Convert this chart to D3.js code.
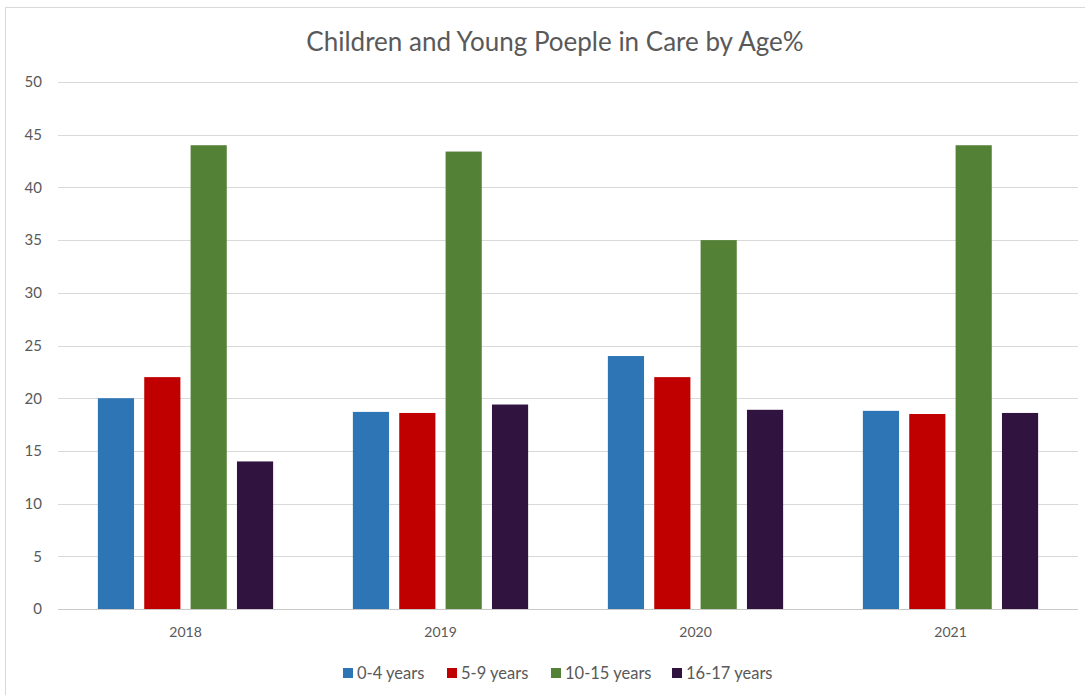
<!DOCTYPE html>
<html lang="en">
<head>
<meta charset="UTF-8">
<title>Children and Young Poeple in Care by Age%</title>
<script src="https://cdn.jsdelivr.net/npm/d3@7"></script>
<style>
  body { margin: 0; background: #fff; }
  text { font-family: Lato, "Open Sans", sans-serif; fill: #595959; }
</style>
</head>
<body>
<script>
    // data
    var years = ["2018", "2019", "2020", "2021"];
    var groups = ["0-4 years", "5-9 years", "10-15 years", "16-17 years"];
    var age0to4 = [20, 18.7, 24, 18.8];
    var age5to9 = [22, 18.6, 22, 18.5];
    var age10to15 = [44, 43.4, 35, 44];
    var age16to17 = [14, 19.4, 18.9, 18.6];
    var yTicks = [0, 5, 10, 15, 20, 25, 30, 35, 40, 45, 50];
    var colors = ["#2e75b6", "#c00000", "#538135", "#30133f"];

    var series = [age0to4, age5to9, age10to15, age16to17];

    var width = 1085, height = 695;
    var plotLeft = 58, plotRight = 1078, plotTop = 82, plotBottom = 609;

    var svg = d3.select("body").append("svg")
        .attr("width", width)
        .attr("height", height);

    // chart frame
    svg.append("rect")
        .attr("x", 5.5).attr("y", 7.5)
        .attr("width", width + 10).attr("height", height + 10)
        .attr("fill", "none")
        .attr("stroke", "#d9d9d9");

    var x = d3.scaleBand().domain(years).range([plotLeft, plotRight]).paddingInner(0).paddingOuter(0);
    var xInner = d3.scaleBand().domain(groups).range([0, x.bandwidth()])
        .paddingInner(0.22).paddingOuter(0.86);
    var y = d3.scaleLinear().domain([0, 50]).range([plotBottom, plotTop]);

    // gridlines
    svg.append("g")
        .selectAll("line")
        .data(yTicks)
        .enter().append("line")
        .attr("x1", plotLeft).attr("x2", plotRight)
        .attr("y1", d => Math.round(y(d)) + 0.5)
        .attr("y2", d => Math.round(y(d)) + 0.5)
        .attr("stroke", d => d === 0 ? "#c8c8c8" : "#d9d9d9")
        .attr("stroke-width", 1.2);

    // y axis labels
    var yAxis = d3.axisLeft(y).tickValues(yTicks).tickSize(0).tickPadding(0);
    svg.append("g")
        .attr("transform", "translate(42,0)")
        .call(yAxis)
        .call(g => g.select(".domain").remove())
        .call(g => g.selectAll("text")
            .style("font-family", "Lato, sans-serif")
            .style("font-size", "15px")
            .attr("fill", "#595959"));

    // x axis labels
    var xAxis = d3.axisBottom(x).tickSize(0).tickPadding(0);
    svg.append("g")
        .attr("transform", "translate(0," + (plotBottom + 18) + ")")
        .call(xAxis)
        .call(g => g.select(".domain").remove())
        .call(g => g.selectAll("text")
            .style("font-family", "Lato, sans-serif")
            .style("font-size", "14px")
            .attr("fill", "#595959"));

    // bars
    var yearGroups = svg.append("g")
        .selectAll("g")
        .data(years)
        .enter().append("g")
        .attr("transform", d => "translate(" + x(d) + ",0)");

    yearGroups.selectAll("rect")
        .data((d, i) => groups.map((gname, j) => ({ group: gname, value: series[j][i], color: colors[j] })))
        .enter().append("rect")
        .attr("x", d => xInner(d.group))
        .attr("width", xInner.bandwidth())
        .attr("y", d => y(d.value))
        .attr("height", d => y(0) - y(d.value))
        .attr("fill", d => d.color);

    // title
    svg.append("text")
        .attr("x", 555)
        .attr("y", 51)
        .attr("text-anchor", "middle")
        .style("font-size", "26px")
        .text("Children and Young Poeple in Care by Age%");

    // legend
    var legendX = [343, 447, 551, 672];
    var legend = svg.append("g")
        .selectAll("g")
        .data(groups)
        .enter().append("g")
        .attr("transform", (d, i) => "translate(" + legendX[i] + ",668)");
    legend.append("rect")
        .attr("width", 10).attr("height", 10)
        .attr("fill", (d, i) => colors[i]);
    legend.append("text")
        .attr("x", 14)
        .attr("y", 10.5)
        .style("font-size", "16.5px")
        .text(d => d);
</script>
</body>
</html>
